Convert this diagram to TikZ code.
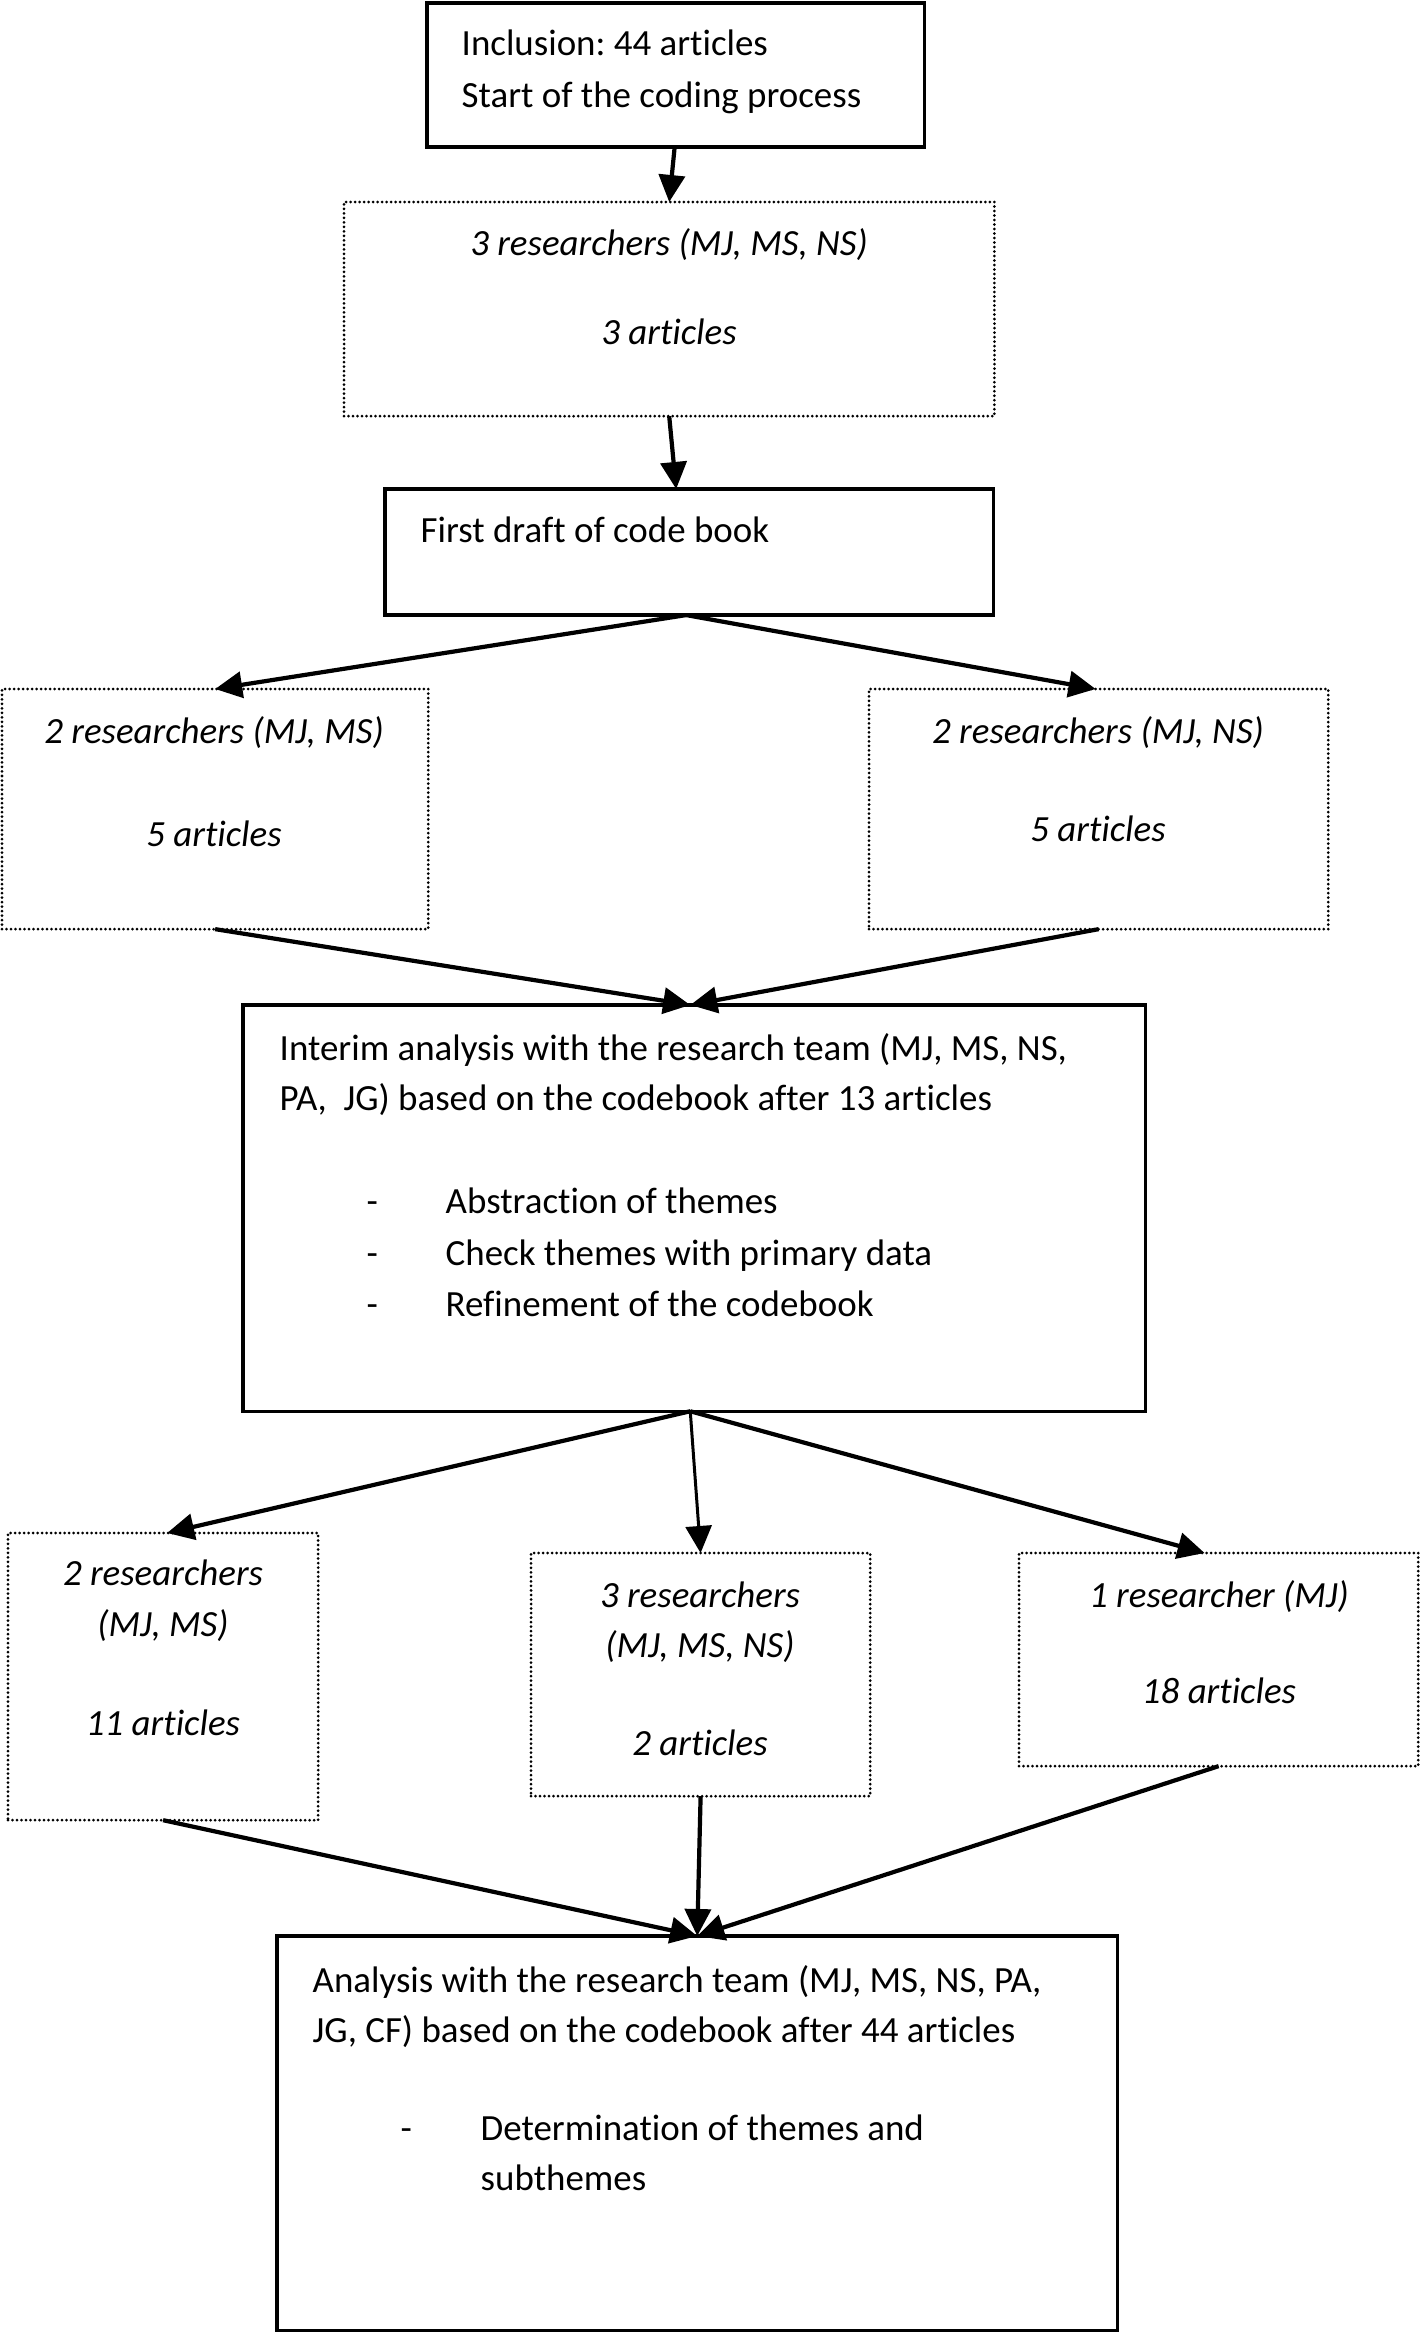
\documentclass[tikz,border=0pt]{standalone}
\usepackage{fontspec}
\setmainfont{Carlito}[Ligatures={NoCommon}]
\frenchspacing
\usetikzlibrary{arrows.meta}
\tikzset{
  solidbox/.style={draw, line width=0.032cm, inner sep=0pt, outer sep=0pt, anchor=north west},
  dotbox/.style={draw, line width=0.03cm, line cap=round, dash pattern=on 0pt off 0.045cm, inner sep=0pt, outer sep=0pt, anchor=north west},
  txt/.style={inner sep=0pt, anchor=base west, font=\fontsize{10.5}{12.6}\selectfont},
  ctxt/.style={inner sep=0pt, anchor=base, font=\fontsize{10.5}{12.6}\selectfont\itshape},
  arr/.style={line width=0.042cm, -{Triangle[length=0.27cm,width=0.26cm]}},
  thinarr/.style={line width=0.03cm, -{Triangle[length=0.27cm,width=0.26cm]}}
}
\begin{document}
\begin{tikzpicture}[x=0.01cm,y=-0.01cm]
\useasboundingbox (0,0) rectangle (1421,2333);
% boxes
\node[solidbox, minimum width=4.97cm, minimum height=1.44cm] (b1) at (427,3) {};
\node[dotbox, minimum width=6.50cm, minimum height=2.14cm] (b2) at (344,202) {};
\node[solidbox, minimum width=6.08cm, minimum height=1.26cm] (b3) at (385,489) {};
\node[dotbox, minimum width=4.26cm, minimum height=2.40cm] (b4l) at (2,689) {};
\node[dotbox, minimum width=4.59cm, minimum height=2.40cm] (b4r) at (869,689) {};
\node[solidbox, minimum width=9.02cm, minimum height=4.06cm] (b5) at (243,1005) {};
\node[dotbox, minimum width=3.10cm, minimum height=2.87cm] (b6l) at (8,1533) {};
\node[dotbox, minimum width=3.39cm, minimum height=2.43cm] (b6m) at (531,1553) {};
\node[dotbox, minimum width=3.99cm, minimum height=2.13cm] (b6r) at (1019,1553) {};
\node[solidbox, minimum width=8.40cm, minimum height=3.94cm] (b7) at (277,1936) {};
% texts
\node[txt] (t1a) at (461,55) {Inclusion: 44 articles};
\node[txt] (t1b) at (461,107) {Start of the coding process};
\node[ctxt] (t2a) at (669,255) {3 researchers (MJ, MS, NS)};
\node[ctxt] (t2b) at (669,344) {3 articles};
\node[txt] (t3a) at (420,542) {First draft of code book};
\node[ctxt] (t4la) at (214,743) {2 researchers (MJ, MS)};
\node[ctxt] (t4lb) at (214,846) {5 articles};
\node[ctxt] (t4ra) at (1098,743) {2 researchers (MJ, NS)};
\node[ctxt] (t4rb) at (1098,841) {5 articles};
\node[txt] (t5a) at (279,1060) {Interim analysis with the research team (MJ, MS, NS,};
\node[txt] (t5b) at (279,1110) {PA,\ \ JG) based on the codebook after 13 articles};
\node[txt] (t5c) at (366,1213) {-};
\node[txt] (t5d) at (445,1213) {Abstraction of themes};
\node[txt] (t5e) at (366,1265) {-};
\node[txt] (t5f) at (445,1265) {Check themes with primary data};
\node[txt] (t5g) at (366,1316) {-};
\node[txt] (t5h) at (445,1316) {Refinement of the codebook};
\node[ctxt] (t6la) at (163,1585) {2 researchers};
\node[ctxt] (t6lb) at (163,1636) {(MJ, MS)};
\node[ctxt] (t6lc) at (163,1735) {11 articles};
\node[ctxt] (t6ma) at (700,1607) {3 researchers};
\node[ctxt] (t6mb) at (700,1657) {(MJ, MS, NS)};
\node[ctxt] (t6mc) at (700,1755) {2 articles};
\node[ctxt] (t6ra) at (1219,1607) {1 researcher (MJ)};
\node[ctxt] (t6rb) at (1219,1703) {18 articles};
\node[txt] (t7a) at (312,1992) {Analysis with the research team (MJ, MS, NS, PA,};
\node[txt] (t7b) at (312,2042) {JG, CF) based on the codebook after 44 articles};
\node[txt] (t7c) at (400,2140) {-};
\node[txt] (t7d) at (480,2140) {Determination of themes and};
\node[txt] (t7e) at (480,2190) {subthemes};
% arrows
\draw[arr] ([xshift=-0.01cm]b1.south) -- (b2.north);
\draw[arr] (b2.south) -- ([xshift=-0.13cm]b3.north);
\draw[arr] ([xshift=-0.03cm]b3.south) -- (b4l.north);
\draw[arr] ([xshift=-0.03cm]b3.south) -- ([xshift=-0.03cm]b4r.north);
\draw[arr] (b4l.south) -- ([xshift=-0.04cm]b5.north);
\draw[arr] (b4r.south) -- ([xshift=-0.04cm]b5.north);
\draw[arr] ([xshift=-0.04cm]b5.south) -- ([xshift=0.04cm]b6l.north);
\draw[thinarr] ([xshift=-0.04cm]b5.south) -- (b6m.north);
\draw[arr] ([xshift=-0.04cm]b5.south) -- ([xshift=-0.14cm]b6r.north);
\draw[arr] (b6l.south) -- (b7.north);
\draw[arr] (b6m.south) -- (b7.north);
\draw[arr] (b6r.south) -- (b7.north);
\end{tikzpicture}
\end{document}
